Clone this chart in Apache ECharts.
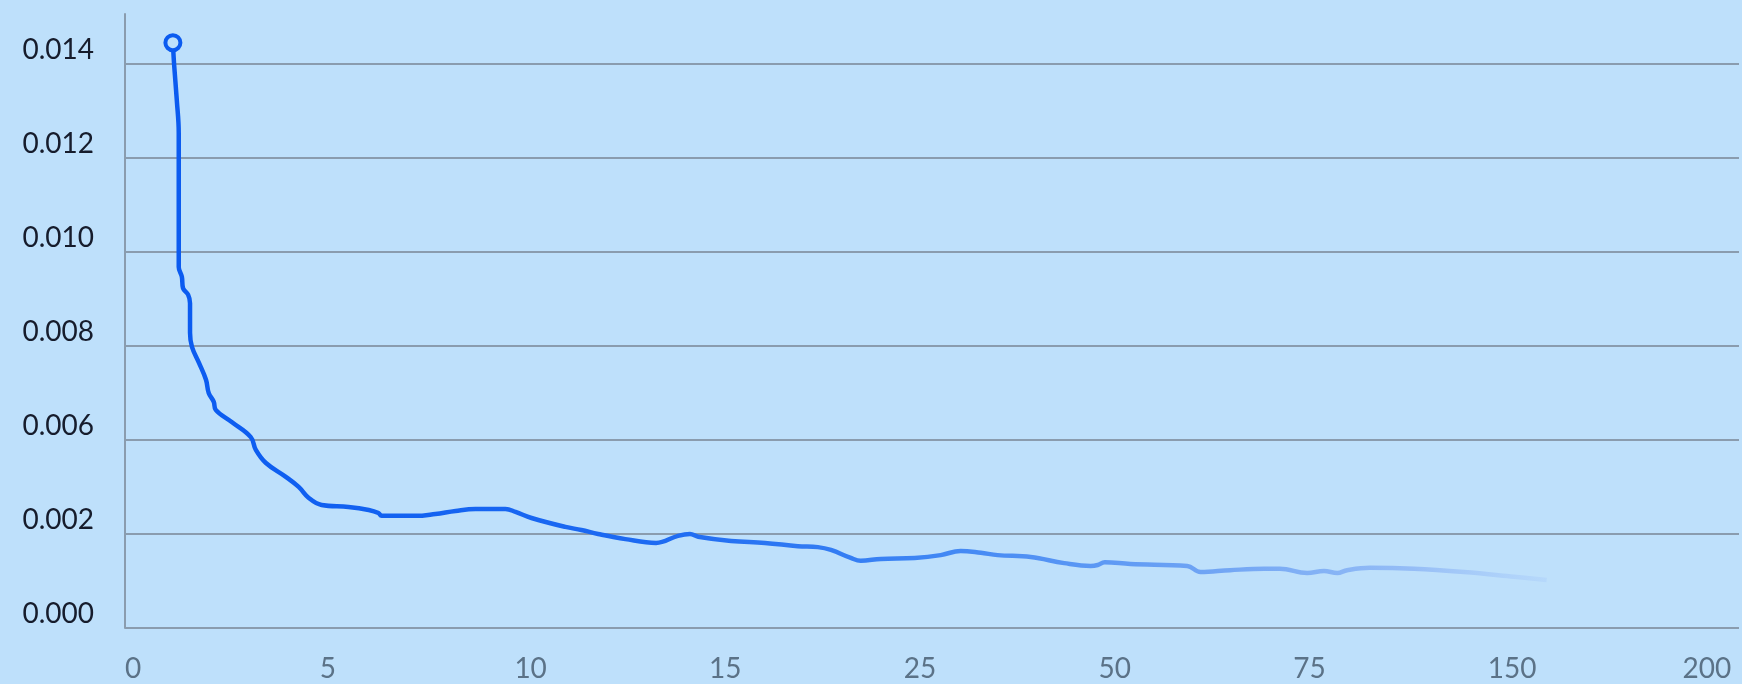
<!DOCTYPE html>
<html>
<head>
<meta charset="utf-8">
<script src="https://cdn.jsdelivr.net/npm/echarts@6/dist/echarts.min.js"></script>
<style>
html,body{margin:0;padding:0;background:#bee0fb;}
#chart{width:1742px;height:684px;}
</style>
</head>
<body>
<div id="chart"></div>
<script>
// Tick labels (axes are piecewise: each tick label sits at an evenly spaced position)
var xTicks = [0, 5, 10, 15, 25, 50, 75, 150, 200];
var xTickLabels = ['0', '5', '10', '15', '25', '50', '75', '150', '200'];
var yTicks = [0, 0.002, 0.006, 0.008, 0.010, 0.012, 0.014];
var yTickLabels = ['0.000', '0.002', '0.006', '0.008', '0.010', '0.012', '0.014'];

// Series values
var xValues = [1.23, 1.26, 1.33, 1.38, 1.38, 1.46, 1.49, 1.62, 1.67, 1.67, 1.72, 1.90, 2.08, 2.15, 2.28, 2.33, 2.74, 3.23, 3.36, 3.62,
  4.13, 4.46, 4.72, 5.05, 5.74, 6.26, 6.51, 6.59, 7.46, 7.97, 8.49, 9.0, 9.77, 10.03, 10.44, 11.31, 11.72, 12.15, 12.85, 13.64,
  14.2, 14.51, 14.72, 16.13, 17.87, 19.56, 20.59, 21.26, 22.28, 22.79, 23.82, 26.4, 29.74, 32.3, 34.9, 37.05, 41.3, 45.6, 49.0, 49.9,
  50.8, 54.1, 61.4, 63.1, 66.9, 71.3, 73.3, 80.4, 86.9, 92.0, 95.8, 104.6, 121.6, 140.8, 156.7, 165.1];
var yValues = [0.01445, 0.0140, 0.01323, 0.01253, 0.00968, 0.00947, 0.00923, 0.00909, 0.00891, 0.00828, 0.00798, 0.00764, 0.00728, 0.0070, 0.00681, 0.00664, 0.00638, 0.00606, 0.00558, 0.00502,
  0.00443, 0.0040, 0.00353, 0.00323, 0.00315, 0.00302, 0.00289, 0.00277, 0.00277, 0.00285, 0.00298, 0.00306, 0.00306, 0.00294, 0.00268, 0.00230, 0.00217, 0.0020, 0.00189, 0.00181,
  0.00196, 0.0020, 0.00194, 0.00185, 0.00181, 0.00174, 0.00172, 0.00166, 0.00149, 0.00143, 0.00147, 0.00149, 0.00155, 0.00164, 0.00160, 0.00155, 0.00151, 0.00138, 0.00132, 0.00134,
  0.00140, 0.00136, 0.00132, 0.00119, 0.00123, 0.00126, 0.00126, 0.00117, 0.00121, 0.00117, 0.00123, 0.00128, 0.00126, 0.00119, 0.00109, 0.00102];

// piecewise mapping of a value onto evenly spaced tick positions
function toPos(v, ticks) {
  for (var i = 0; i < ticks.length - 1; i++) {
    if (v <= ticks[i + 1] || i === ticks.length - 2) {
      return i + (v - ticks[i]) / (ticks[i + 1] - ticks[i]);
    }
  }
  return 0;
}
function labelFor(v, labels) {
  var r = Math.round(v);
  if (Math.abs(v - r) > 1e-6 || r < 0 || r >= labels.length) return '';
  return labels[r];
}

var bg = '#bee0fb';
var seriesData = xValues.map(function (x, i) {
  var item = { value: [toPos(x, xTicks), toPos(yValues[i], yTicks)] };
  if (i === 0) {
    item.symbol = 'circle';
    item.symbolSize = 15;
    item.itemStyle = { color: bg, borderColor: '#0b5bf0', borderWidth: 4 };
  }
  return item;
});

var chart = echarts.init(document.getElementById('chart'), null, { renderer: 'canvas' });
chart.setOption({
  backgroundColor: bg,
  animation: false,
  grid: { left: 125, right: 0, top: 14, bottom: 56, containLabel: false },
  xAxis: {
    type: 'value',
    min: 0,
    max: 8.29,
    interval: 1,
    axisLine: { show: false },
    axisTick: { show: false },
    splitLine: { show: false },
    axisLabel: {
      align: 'left',
      margin: 27,
      fontFamily: 'Lato',
      fontSize: 28,
      color: '#5b7287',
      formatter: function (v) { return labelFor(v, xTickLabels); }
    }
  },
  yAxis: {
    type: 'value',
    min: 0,
    max: 6.53,
    interval: 1,
    axisLine: { show: true, lineStyle: { color: '#8a9cae', width: 2 } },
    axisTick: { show: false },
    splitLine: { show: true, showMaxLine: false, lineStyle: { color: '#8a9cae', width: 2 } },
    axisLabel: {
      margin: 31,
      fontFamily: 'Lato',
      fontSize: 28,
      color: '#161c2c',
      verticalAlign: 'bottom',
      showMaxLabel: false,
      formatter: function (v) { return labelFor(v, yTickLabels); }
    }
  },
  series: [{
    type: 'line',
    data: seriesData,
    symbol: 'none',
    smooth: 0.4,
    itemStyle: { color: '#0b5bf0' },
    lineStyle: {
      width: 4.5,
      color: new echarts.graphic.LinearGradient(0, 0, 1, 0, [
        { offset: 0, color: '#0b5bf0' },
        { offset: 0.35, color: '#1d6af2' },
        { offset: 0.55, color: '#3f86f4' },
        { offset: 0.75, color: '#6fa4f4' },
        { offset: 0.9, color: '#95bdf6' },
        { offset: 1, color: 'rgba(170,205,250,0.4)' }
      ])
    },
    z: 3
  }]
});
</script>
</body>
</html>
